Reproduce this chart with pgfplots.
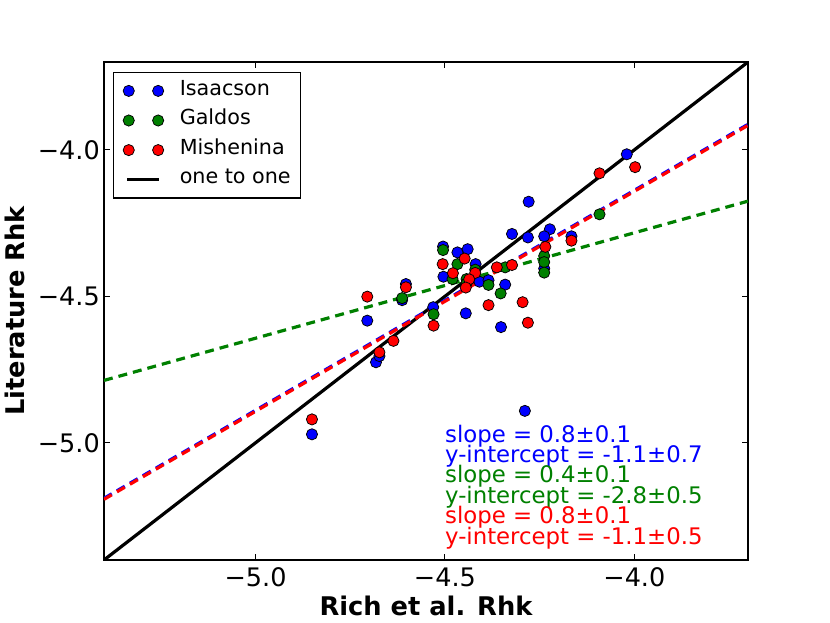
\documentclass[border=0pt]{standalone}
\usepackage{fontspec}
\setmainfont{DejaVu Sans}
\usepackage{pgfplots}
\usepackage{pgfplotstable}
\pgfplotsset{compat=1.18}
\definecolor{mblue}{rgb}{0,0,1}
\definecolor{mgreen}{rgb}{0,0.5,0}
\definecolor{mred}{rgb}{1,0,0}
\pgfplotsset{
  markleg/.style={legend image code/.code={\draw[mark repeat=1,mark phase=1,##1] plot coordinates {(0pt,0pt) (29.4pt,0pt)};}},
  lineleg/.style={legend image code/.code={\draw[##1] (-1.3pt,0pt) -- (30.7pt,0pt);}},
}

\pgfplotstableread{
x y
-4.851 -4.971
-4.705 -4.583
-4.682 -4.725
-4.673 -4.704
-4.603 -4.458
-4.613 -4.513
-4.531 -4.537
-4.505 -4.330
-4.467 -4.350
-4.440 -4.339
-4.504 -4.433
-4.419 -4.390
-4.409 -4.450
-4.385 -4.445
-4.341 -4.460
-4.445 -4.558
-4.352 -4.605
-4.323 -4.287
-4.279 -4.177
-4.281 -4.299
-4.223 -4.271
-4.238 -4.295
-4.238 -4.405
-4.166 -4.295
-4.020 -4.015
-4.289 -4.891
}\isaacson

\pgfplotstableread{
x y
-4.613 -4.506
-4.530 -4.561
-4.505 -4.342
-4.467 -4.390
-4.480 -4.441
-4.420 -4.409
-4.443 -4.441
-4.443 -4.456
-4.385 -4.461
-4.353 -4.490
-4.341 -4.401
-4.238 -4.362
-4.238 -4.383
-4.238 -4.419
-4.092 -4.220
}\galdos

\pgfplotstableread{
x y
-4.851 -4.920
-4.705 -4.501
-4.673 -4.691
-4.636 -4.652
-4.603 -4.469
-4.530 -4.600
-4.506 -4.390
-4.448 -4.371
-4.479 -4.421
-4.420 -4.420
-4.436 -4.442
-4.445 -4.470
-4.363 -4.401
-4.323 -4.393
-4.385 -4.530
-4.295 -4.520
-4.281 -4.590
-4.235 -4.331
-4.166 -4.310
-4.092 -4.080
-3.998 -4.059
}\mishenina

\begin{document}
\begin{tikzpicture}[x=1pt,y=1pt]
\useasboundingbox (0,0) rectangle (830,623);
\begin{axis}[
  at={(104pt,63pt)}, anchor=south west,
  scale only axis, width=644pt, height=498pt,
  xmin=-5.4, xmax=-3.7, ymin=-5.4, ymax=-3.7,
  axis line style={line width=1.3pt, black},
  tick style={line width=1.1pt, black},
  major tick length=5.6pt,
  tick align=inside,
  xtick={-5,-4.5,-4}, xticklabels={−5.0,−4.5,−4.0},
  ytick={-5,-4.5,-4}, yticklabels={−5.0,−4.5,−4.0},
  ticklabel style={font=\fontsize{25.5}{30}\selectfont},
  xticklabel style={anchor=base, inner sep=0pt, yshift=-27pt},
  yticklabel style={anchor=east, inner sep=0pt, xshift=-4pt},
  xlabel={Rich et al. Rhk},
  ylabel={Literature Rhk},
  label style={font=\fontsize{25.7}{30}\selectfont\bfseries},
  xlabel style={at={(axis description cs:0.5,-0.1114)}, anchor=base},
  ylabel style={at={(axis description cs:-0.1242,0.5)}, anchor=base},
  clip=true,
  legend cell align=left,
  legend style={at={(axis description cs:0.01398,0.9799)}, anchor=north west,
    draw=black, line width=1.3pt, fill=white,
    inner xsep=9.5pt, inner ysep=7pt,
    row sep=7.1pt, column sep=16pt,
    font=\fontsize{20.7}{24}\selectfont,
    nodes={inner sep=0pt, text height=15.5pt, text depth=7pt}},
]
\addplot[markleg, only marks, mark=*, mark size=5.6pt, mark options={draw=black, line width=0.75pt, fill=mblue}] table[x=x,y=y] {\isaacson};
\addlegendentry{Isaacson}
\addplot[markleg, only marks, mark=*, mark size=5.6pt, mark options={draw=black, line width=0.75pt, fill=mgreen}] table[x=x,y=y] {\galdos};
\addlegendentry{Galdos}
\addplot[markleg, only marks, mark=*, mark size=5.6pt, mark options={draw=black, line width=0.75pt, fill=mred}] table[x=x,y=y] {\mishenina};
\addlegendentry{Mishenina}
\addplot[lineleg, black, line width=3.2pt, no marks] coordinates {(-5.4,-5.4) (-3.7,-3.7)};
\addlegendentry{one to one}
\addplot[mblue, line width=3.2pt, no marks, dash pattern=on 9pt off 6pt, forget plot] coordinates {(-5.4,-5.1894) (-3.7,-3.9127)};
\addplot[mred, line width=3.2pt, no marks, dash pattern=on 9pt off 6pt, forget plot] coordinates {(-5.4,-5.1929) (-3.7,-3.9162)};
\addplot[mgreen, line width=3.2pt, no marks, dash pattern=on 9pt off 6pt, forget plot] coordinates {(-5.4,-4.787) (-3.7,-4.175)};
\node[anchor=base west, inner sep=0pt, text=mblue, font=\fontsize{22.8}{26}\selectfont] at (axis cs:-4.5,-4.998) {slope = 0.8±0.1};
\node[anchor=base west, inner sep=0pt, text=mblue, font=\fontsize{22.8}{26}\selectfont] at (axis cs:-4.5,-5.068) {y-intercept = -1.1±0.7};
\node[anchor=base west, inner sep=0pt, text=mgreen, font=\fontsize{22.8}{26}\selectfont] at (axis cs:-4.5,-5.137) {slope = 0.4±0.1};
\node[anchor=base west, inner sep=0pt, text=mgreen, font=\fontsize{22.8}{26}\selectfont] at (axis cs:-4.5,-5.207) {y-intercept = -2.8±0.5};
\node[anchor=base west, inner sep=0pt, text=mred, font=\fontsize{22.8}{26}\selectfont] at (axis cs:-4.5,-5.276) {slope = 0.8±0.1};
\node[anchor=base west, inner sep=0pt, text=mred, font=\fontsize{22.8}{26}\selectfont] at (axis cs:-4.5,-5.346) {y-intercept = -1.1±0.5};
\end{axis}
\end{tikzpicture}
\end{document}
